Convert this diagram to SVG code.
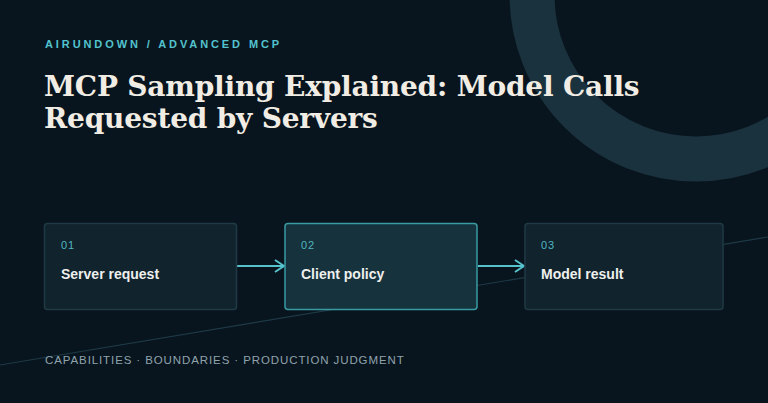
<svg xmlns="http://www.w3.org/2000/svg" width="768" height="403" viewBox="0 0 768 403">
<style>
.box{fill:#11232d;stroke:#203a45;stroke-width:1.5}
.num{font:11px "Liberation Sans",sans-serif;fill:#4fb6c0;letter-spacing:1px}
.lbl{font:bold 14px "Liberation Sans",sans-serif;fill:#eef0ee}
.con{stroke:#56c2cc;stroke-width:2;fill:none}
</style>
<defs><marker id="ah" markerWidth="12" markerHeight="14" refX="10" refY="7" orient="auto" markerUnits="userSpaceOnUse"><path d="M1,1 L10,7 L1,13" fill="none" stroke="#56c2cc" stroke-width="2"/></marker></defs>
<rect width="768" height="403" fill="#09151e"/>
<circle cx="696" cy="-5" r="164" fill="none" stroke="#1a323d" stroke-width="45"/>
<line x1="0" y1="365" x2="768" y2="237" stroke="#1d3a46" stroke-width="1.2"/>
<text x="45" y="48" font-family="Liberation Sans,sans-serif" font-size="11" font-weight="bold" fill="#52c3cf" letter-spacing="2.9">AIRUNDOWN / ADVANCED MCP</text>
<text font-family="DejaVu Serif,Liberation Serif,serif" font-weight="bold" font-size="28" fill="#f1ede4" letter-spacing="-0.2"><tspan x="44" y="96">MCP Sampling Explained: Model Calls</tspan><tspan x="44" y="128">Requested by Servers</tspan></text>
<g id="connectors">
<line class="con" x1="237" y1="266" x2="284" y2="266" marker-end="url(#ah)"/>
<line class="con" x1="478" y1="266" x2="524" y2="266" marker-end="url(#ah)"/>
</g>
<g id="n1"><rect class="box" x="44.5" y="223.5" width="192" height="86" rx="3"/><text class="num" x="61" y="249">01</text><text class="lbl" x="61" y="279">Server request</text></g>
<g id="n2"><rect x="285" y="223.5" width="192" height="86" rx="3" fill="#16323c" stroke="#3a9aa2" stroke-width="1.5"/><text class="num" x="301" y="249">02</text><text class="lbl" x="301" y="279">Client policy</text></g>
<g id="n3"><rect class="box" x="525" y="223.5" width="198" height="86" rx="3"/><text class="num" x="541" y="249">03</text><text class="lbl" x="541" y="279">Model result</text></g>
<text x="45" y="364" font-family="Liberation Sans,sans-serif" font-size="11.5" fill="#8fa3ad" letter-spacing="0.9">CAPABILITIES · BOUNDARIES · PRODUCTION JUDGMENT</text>
</svg>
